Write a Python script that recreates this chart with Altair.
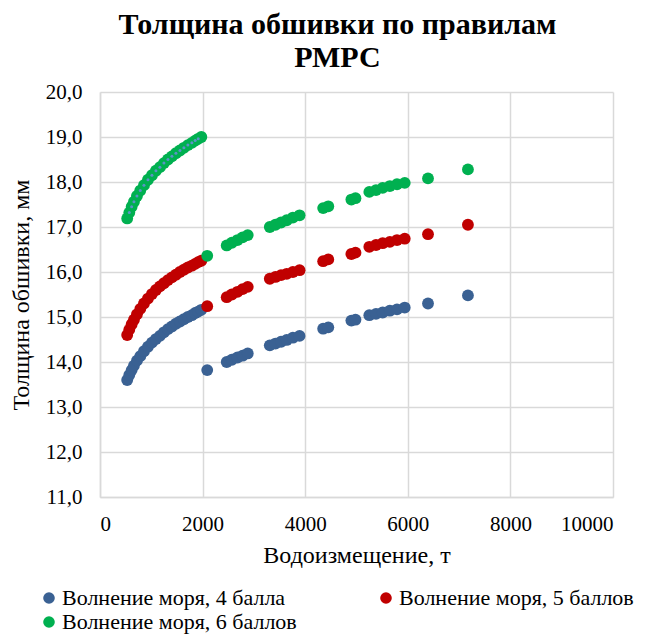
import altair as alt
import pandas as pd

# Displacement values, t (dense range and the spaced-out range)
x_dense = [530, 571, 617, 662, 720, 785, 857, 935, 1012, 1090, 1168, 1246,
           1324, 1402, 1480, 1558, 1635, 1713, 1791, 1856, 1914, 1975]
x_sparse = [2090, 2470, 2570, 2680, 2780, 2880, 3310, 3420, 3530, 3640, 3760,
            3890, 4350, 4450, 4900, 4980, 5250, 5380, 5510, 5650, 5790, 5940,
            6394, 7172]

# Plating thickness, mm
sea4_dense = [13.60, 13.71, 13.82, 13.92, 14.03, 14.13, 14.24, 14.34, 14.43,
              14.51, 14.58, 14.66, 14.73, 14.79, 14.85, 14.90, 14.95, 15.00,
              15.04, 15.09, 15.12, 15.16]
sea5_dense = [14.60, 14.72, 14.84, 14.94, 15.06, 15.18, 15.30, 15.41, 15.51,
              15.60, 15.68, 15.75, 15.82, 15.88, 15.94, 16.00, 16.05, 16.10,
              16.14, 16.18, 16.22, 16.25]
sea6_dense = [17.19, 17.32, 17.45, 17.56, 17.69, 17.81, 17.93, 18.05, 18.15,
              18.25, 18.33, 18.42, 18.50, 18.57, 18.64, 18.70, 18.76, 18.82,
              18.87, 18.92, 18.96, 19.00]

sea4_sparse = [13.82, 14.00, 14.05, 14.10, 14.14, 14.19, 14.37, 14.41, 14.45,
               14.49, 14.54, 14.58, 14.74, 14.77, 14.92, 14.94, 15.04, 15.07,
               15.10, 15.14, 15.17, 15.21, 15.30, 15.48]
sea5_sparse = [15.24, 15.44, 15.50, 15.56, 15.62, 15.67, 15.85, 15.89, 15.93,
               15.96, 16.00, 16.04, 16.24, 16.28, 16.40, 16.43, 16.56, 16.60,
               16.64, 16.67, 16.71, 16.74, 16.84, 17.05]
sea6_sparse = [16.36, 16.59, 16.65, 16.71, 16.77, 16.82, 17.00, 17.05, 17.10,
               17.15, 17.21, 17.26, 17.42, 17.46, 17.61, 17.64, 17.78, 17.82,
               17.87, 17.91, 17.95, 17.98, 18.08, 18.28]

series_names = ["Волнение моря, 4 балла", "Волнение моря, 5 баллов",
                "Волнение моря, 6 баллов"]
series_colors = ["#3a6193", "#c00000", "#00b050"]
inner_name = "inner"
inner_color = "#5a93c6"

rows = []
for i, (name, dense, sparse) in enumerate(zip(series_names,
                                              [sea4_dense, sea5_dense, sea6_dense],
                                              [sea4_sparse, sea5_sparse, sea6_sparse])):
    for x, y in zip(x_dense + x_sparse, dense + sparse):
        rows.append({"D": x, "t": y, "series": name, "sz": 140, "order": i})
# small inner markers along the dense 6-ball curve, drawn on top
for x, y in zip(x_dense[1:-1], sea6_dense[1:-1]):
    rows.append({"D": x, "t": y, "series": inner_name, "sz": 9, "order": 3})
df = pd.DataFrame(rows)

FONT = "Liberation Serif"
W = 500  # regular face

axis_style = dict(labelFont=FONT, labelFontSize=21, labelColor="#000000",
                  labelFontWeight=W, titleFont=FONT, titleFontSize=24,
                  titleColor="#000000", titleFontWeight=W,
                  gridColor="#d9d9d9", gridWidth=1.5, domainColor="#d9d9d9",
                  domainWidth=1.5, ticks=False)

chart = alt.Chart(df).mark_circle(opacity=1).encode(
    x=alt.X("D:Q", scale=alt.Scale(domain=[0, 10000], nice=False),
            axis=alt.Axis(title="Водоизмещение, т",
                          values=[0, 2000, 4000, 6000, 8000, 10000],
                          format="d", labelPadding=16, titlePadding=9,
                          **axis_style)),
    y=alt.Y("t:Q", scale=alt.Scale(domain=[11, 20], nice=False, zero=False),
            axis=alt.Axis(title="Толщина обшивки, мм",
                          values=[11, 12, 13, 14, 15, 16, 17, 18, 19, 20],
                          labelExpr="replace(format(datum.value, '.1f'), '.', ',')",
                          labelPadding=18, titlePadding=12, **axis_style)),
    color=alt.Color("series:N",
                    scale=alt.Scale(domain=series_names + [inner_name],
                                    range=series_colors + [inner_color]),
                    legend=alt.Legend(title=None, values=series_names,
                                      orient="none", legendX=-62, legendY=495,
                                      columns=2, direction="horizontal",
                                      columnPadding=78, rowPadding=2,
                                      symbolType="circle", symbolSize=135,
                                      symbolStrokeWidth=0, labelLimit=400,
                                      labelOffset=2, labelFont=FONT,
                                      labelFontSize=22, labelFontWeight=W,
                                      labelColor="#000000")),
    size=alt.Size("sz:Q", scale=None, legend=None),
    order=alt.Order("order:Q"),
).properties(
    width=513,
    height=405,
    autosize=alt.AutoSizeParams(type="none"),
    padding={"left": 100, "top": 92, "right": 32, "bottom": 138},
    title=alt.TitleParams(text=["Толщина обшивки по правилам", "РМРС"],
                          font=FONT, fontSize=30, fontWeight="bold",
                          color="#000000", anchor="middle", dx=-19,
                          offset=8, lineHeight=33),
).configure_view(stroke=None)

chart.save("out.html", embed_options={"renderer": "svg", "actions": False})
